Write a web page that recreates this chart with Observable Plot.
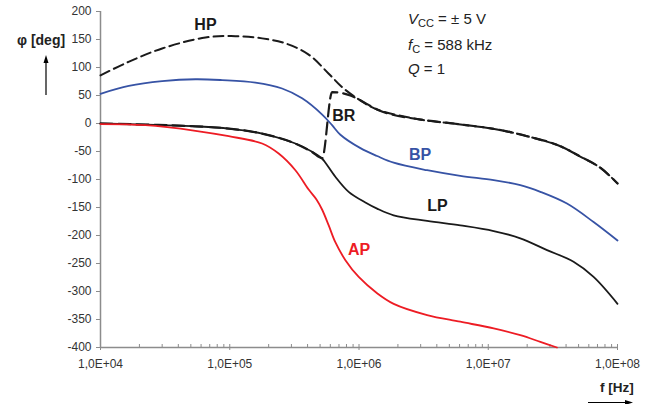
<!DOCTYPE html>
<html><head><meta charset="utf-8">
<script src="https://cdn.jsdelivr.net/npm/d3@7"></script>
<script src="https://cdn.jsdelivr.net/npm/@observablehq/plot@0.6"></script>
<style>body{margin:0;background:#fff} #chart svg{display:block}</style>
</head><body><div id="chart"></div>
<script>
// Frequencies in Hz, phase in degrees
const hpFreq  = [10000,16470,30000,64900,110700,178000,270000,408000,583000,740000,995000,1380000,2985000,5370000,11700000,20000000,36100000,51500000,73600000,100000000];
const hpPhase = [86,110,134,153.6,156,152,143,123,89,65,43,25,7,0,-10.7,-22.7,-40.5,-59,-79,-107];

const brFreq  = [10000,22300,54300,98200,178000,322000,434000,519000,619000,857000,995000,1380000,2985000,5370000,11700000,20000000,36100000,51500000,73600000,100000000];
const brPhase = [0,-2,-5,-9,-18,-36,-51,-62,56,50,43,25,7,0,-10.7,-22.7,-40.5,-59,-79,-107];

const bpFreq  = [10000,16560,30000,54300,87300,158000,254000,363000,519000,619000,718000,1026000,1380000,1855000,3365000,6080000,11020000,17700000,25300000,40650000,65300000,100000000];
const bpPhase = [53,67,75.5,79,77.5,73,62.5,45,16,-3,-20,-44,-58,-70,-83.4,-93.5,-101,-110,-122,-143,-176,-209];

const lpFreq  = [10000,22300,54300,98200,178000,322000,434000,519000,550000,656000,832000,1120000,1380000,1855000,3365000,6080000,11020000,17700000,28500000,45700000,65300000,100000000];
const lpPhase = [0,-2,-5,-9,-18,-35.7,-50.6,-63,-70,-95,-122,-141,-152,-164,-174,-182,-192,-205,-226,-247,-274,-322];

const apFreq  = [10000,22300,54300,98200,178000,239000,322000,408000,470000,519000,583000,656000,785000,995000,1380000,1855000,3365000,6080000,11020000,17700000,25300000,34000000];
const apPhase = [-1,-3,-13,-22.7,-35.7,-53.6,-83.4,-118,-136,-154,-182,-212,-244,-274,-303,-322,-342,-354,-366,-378,-390,-400];

const xMajorTicks = [1e4, 1e5, 1e6, 1e7, 1e8];
const xTickLabels = ["1,0E+04", "1,0E+05", "1,0E+06", "1,0E+07", "1,0E+08"];
const yTicks = [200, 150, 100, 50, 0, -50, -100, -150, -200, -250, -300, -350, -400];

const curveLabels = ["HP", "BR", "BP", "LP", "AP"];
const labelFreq   = [64900, 762000, 2970000, 4040000, 1000000];
const labelPhase  = [176, 14.5, -56.6, -147.7, -226];
const labelColors = ["#1a1a1a", "#1a1a1a", "#3753a5", "#1a1a1a", "#ed1c24"];

const rows = (f, p) => f.map((x, i) => ({f: x, phase: p[i]}));
const minorTicks = d3.scaleLog().domain([1e4, 1e8]).ticks()
  .filter(t => Math.abs(Math.log10(t) - Math.round(Math.log10(t))) > 1e-6);
const labelRows = curveLabels.map((t, i) => ({t, f: labelFreq[i], phase: labelPhase[i], c: labelColors[i]}));

const axisGray = "#8c8c8c";
const chart = Plot.plot({
  width: 653, height: 404,
  marginLeft: 100, marginRight: 36, marginTop: 11, marginBottom: 57,
  style: {fontFamily: "'Liberation Sans', Arial, sans-serif", fontSize: "12px", background: "#fff", overflow: "visible"},
  x: {type: "log", domain: [1e4, 1e8]},
  y: {domain: [-400, 200]},
  marks: [
    Plot.axisY({ticks: yTicks, tickSize: 4, tickPadding: 5, tickFormat: d => String(d), label: null, stroke: axisGray, fill: "#333", fontSize: 12}),
    Plot.axisX({ticks: minorTicks, tickSize: 3, dy: -3, tickFormat: () => "", label: null, stroke: axisGray}),
    Plot.axisX({ticks: xMajorTicks, tickSize: 3, dy: -3, tickFormat: () => "", label: null, stroke: axisGray}),
    Plot.axisX({ticks: xMajorTicks, tickSize: 3, tickPadding: 9, tickFormat: d => xTickLabels[xMajorTicks.indexOf(d)], label: null, stroke: axisGray, fill: "#333", fontSize: 12}),
    Plot.ruleX([1e4], {stroke: axisGray, strokeWidth: 1.5}),
    Plot.ruleY([-400], {stroke: axisGray, strokeWidth: 1.5}),
    Plot.line(rows(hpFreq, hpPhase), {x: "f", y: "phase", stroke: "#1a1a1a", strokeWidth: 2, strokeDasharray: "10,5", curve: "catmull-rom"}),
    Plot.line(rows(brFreq, brPhase), {x: "f", y: "phase", stroke: "#1a1a1a", strokeWidth: 2.2, strokeDasharray: "12,6", curve: "monotone-x"}),
    Plot.line(rows(bpFreq, bpPhase), {x: "f", y: "phase", stroke: "#3753a5", strokeWidth: 1.8, curve: "catmull-rom"}),
    Plot.line(rows(lpFreq, lpPhase), {x: "f", y: "phase", stroke: "#1a1a1a", strokeWidth: 1.8, curve: "catmull-rom"}),
    Plot.line(rows(apFreq, apPhase), {x: "f", y: "phase", stroke: "#ed1c24", strokeWidth: 1.8, curve: "catmull-rom"}),
    Plot.text(labelRows, {x: "f", y: "phase", text: "t", fill: "c", fontSize: 16, fontWeight: "bold"})
  ]
});
document.getElementById("chart").appendChild(chart);

// Annotations
const svg = d3.select(chart);
const ff = "'Liberation Sans', Arial, sans-serif";
const params = [
  {main: "V", sub: "CC", rest: " = \u00b1 5 V", y: 24},
  {main: "f", sub: "C", rest: " = 588 kHz", y: 50},
  {main: "Q", sub: "", rest: " = 1", y: 74}
];
params.forEach(p => {
  const t = svg.append("text").attr("x", 408).attr("y", p.y).attr("text-anchor", "start")
    .attr("font-family", ff).attr("font-size", 15).attr("fill", "#222");
  t.append("tspan").attr("font-style", "italic").text(p.main);
  if (p.sub) {
    t.append("tspan").attr("font-size", 11).attr("dy", 3).text(p.sub);
    t.append("tspan").attr("dy", -3).text(p.rest);
  } else {
    t.append("tspan").text(p.rest);
  }
});

// Axis titles with arrows
svg.append("text").attr("x", 17).attr("y", 45).attr("text-anchor", "start").attr("font-family", ff).attr("font-size", 14).attr("font-weight", "bold").attr("fill", "#222").text("\u03c6 [deg]");
svg.append("text").attr("x", 600).attr("y", 392).attr("text-anchor", "start").attr("font-family", ff).attr("font-size", 13.5).attr("font-weight", "bold").attr("fill", "#222").text("f [Hz]");
svg.append("line").attr("x1", 46).attr("y1", 95).attr("x2", 46).attr("y2", 62).attr("stroke", "#000").attr("stroke-width", 1.2);
svg.append("path").attr("d", "M46,55 L43.5,63 L48.5,63 Z").attr("fill", "#000");
svg.append("line").attr("x1", 588).attr("y1", 402.5).attr("x2", 626).attr("y2", 402.5).attr("stroke", "#000").attr("stroke-width", 1.2);
svg.append("path").attr("d", "M633,402.5 L625,400 L625,405 Z").attr("fill", "#000");
</script>
</body></html>
